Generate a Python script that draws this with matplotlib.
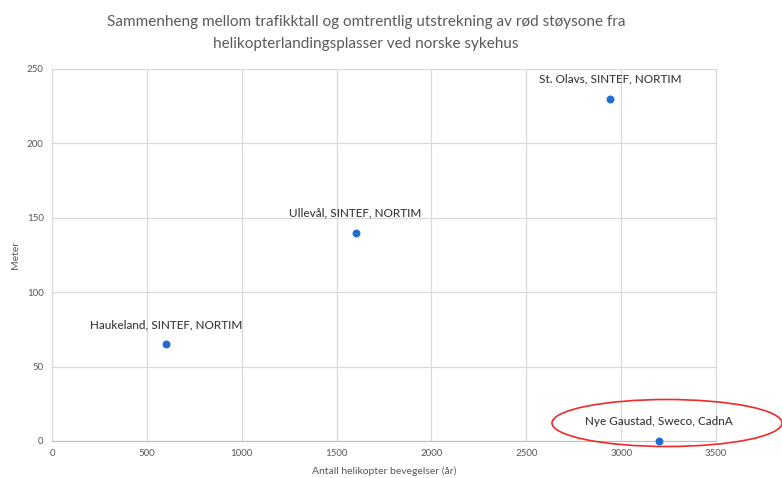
import matplotlib
matplotlib.use("Agg")
import matplotlib.pyplot as plt
from matplotlib.patches import Ellipse

plt.rcParams['font.family'] = ['Lato', 'DejaVu Sans']

names = ["Haukeland, SINTEF, NORTIM", "Ullevål, SINTEF, NORTIM",
         "St. Olavs, SINTEF, NORTIM", "Nye Gaustad, Sweco, CadnA"]
movements = [600, 1600, 2940, 3200]
meters = [65, 140, 230, 0]
x_ticks = [0, 500, 1000, 1500, 2000, 2500, 3000, 3500]
y_ticks = [0, 50, 100, 150, 200, 250]

W, H = 782, 478
fig = plt.figure(figsize=(W / 100, H / 100), dpi=100)
ax = fig.add_axes([52 / W, 1 - 441 / H, (716 - 52) / W, (441 - 69) / H])

grid_c = "#d9d9d9"
ax.scatter(movements, meters, s=22, color="#1f6fd0", zorder=3, clip_on=False)
for n, x, y in zip(names, movements, meters):
    ax.annotate(n, (x, y), xytext=(0, 10), textcoords="offset points",
                ha="center", va="bottom", fontsize=8.5, color="#3a3a3a",
                fontweight="medium")

ax.set_xlim(0, 3500)
ax.set_ylim(0, 250)
ax.set_xticks(x_ticks)
ax.set_yticks(y_ticks)
ax.grid(True, color=grid_c, linewidth=0.9)
ax.set_axisbelow(True)
for s in ax.spines.values():
    s.set_color(grid_c)
ax.spines['bottom'].set_color("#bfbfbf")
ax.tick_params(length=0, labelsize=7, labelcolor="#595959", pad=6)
ax.set_xlabel("Antall helikopter bevegelser (år)", fontsize=7.5, color="#595959", labelpad=6)
ax.set_ylabel("Meter", fontsize=7.5, color="#595959", labelpad=5)

fig.text(366 / W, 1 - 22 / H, "Sammenheng mellom trafikktall og omtrentlig utstrekning av rød støysone fra",
         ha="center", va="center", fontsize=11, color="#595959")
fig.text(366 / W, 1 - 44 / H, "helikopterlandingsplasser ved norske sykehus",
         ha="center", va="center", fontsize=11, color="#595959")

ell = Ellipse((667 / W, 1 - 423 / H), 230 / W, 47 / H, transform=fig.transFigure,
              fill=False, edgecolor="#ee2a2a", linewidth=1.2, clip_on=False)
fig.add_artist(ell)

fig.savefig("out.png", dpi=100, facecolor="white")
